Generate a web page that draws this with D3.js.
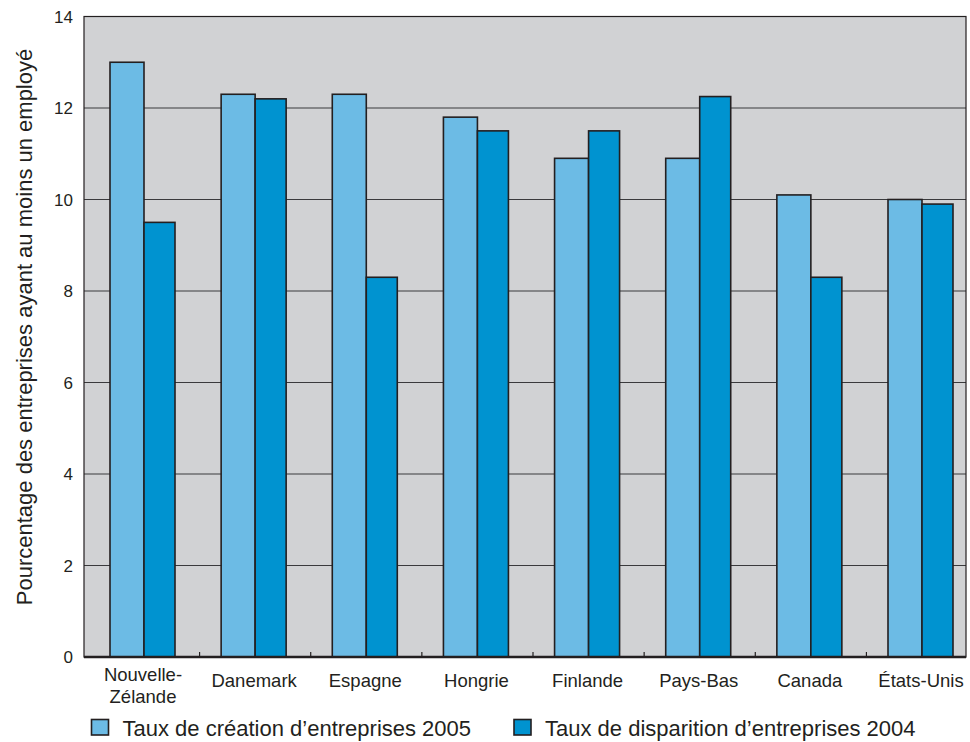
<!DOCTYPE html>
<html>
<head>
<meta charset="utf-8">
<script src="https://cdn.jsdelivr.net/npm/d3@7"></script>
<style>
  body { margin: 0; background: #fff; }
  text { font-family: "Liberation Sans", Arial, sans-serif; fill: #231f20; }
</style>
</head>
<body>
<svg id="chart" width="970" height="742"></svg>
<script>
const countries = ["Nouvelle-\nZélande", "Danemark", "Espagne", "Hongrie", "Finlande", "Pays-Bas", "Canada", "États-Unis"];
const creation2005 = [13.0, 12.3, 12.3, 11.8, 10.9, 10.9, 10.1, 10.0];
const disparition2004 = [9.5, 12.2, 8.3, 11.5, 11.5, 12.25, 8.3, 9.9];
const yTicks = [0, 2, 4, 6, 8, 10, 12, 14];
const seriesNames = ["Taux de création d’entreprises 2005", "Taux de disparition d’entreprises 2004"];
const colors = ["#6cbbe5", "#0093d0"];

const margin = { left: 84, top: 16.5, right: 4, bottom: 85 };
const width = 970 - margin.left - margin.right;
const height = 657 - margin.top;

const svg = d3.select("#chart");
const g = svg.append("g").attr("transform", "translate(" + margin.left + "," + margin.top + ")");

// group centres (boundary between the two bars)
const x = d3.scalePoint().domain(countries).range([60, 838]);
const step = x.step();
const y = d3.scaleLinear().domain([0, 14]).range([height, 0]);

// background
g.append("rect").attr("width", width).attr("height", height).attr("fill", "#d1d2d4");

// gridlines
g.selectAll(".grid").data(yTicks.slice(1, -1)).enter().append("line")
  .attr("x1", 0).attr("x2", width)
  .attr("y1", d => y(d)).attr("y2", d => y(d))
  .attr("stroke", "#3a3a3c").attr("stroke-width", 1.2);

// bars
const barX = [-34, 0];
const barWs = [34, 31];
const data = countries.map((c, i) => ({ c: c, v: [creation2005[i], disparition2004[i]] }));
const groups = g.selectAll(".grp").data(data).enter().append("g")
  .attr("transform", d => "translate(" + x(d.c) + ",0)");
groups.selectAll("rect").data(d => d.v).enter().append("rect")
  .attr("x", (d, i) => barX[i])
  .attr("y", d => y(d))
  .attr("width", (d, i) => barWs[i])
  .attr("height", d => y(0) - y(d))
  .attr("fill", (d, i) => colors[i])
  .attr("stroke", "#231f20").attr("stroke-width", 1.6);

// small tick marks between categories
g.selectAll(".sep").data(countries.slice(1)).enter().append("line")
  .attr("x1", d => x(d) - step / 2).attr("x2", d => x(d) - step / 2)
  .attr("y1", height).attr("y2", height - 5)
  .attr("stroke", "#231f20").attr("stroke-width", 1.2);

// frame
g.append("rect").attr("width", width).attr("height", height)
  .attr("fill", "none").attr("stroke", "#231f20").attr("stroke-width", 1.2);
g.append("line").attr("x1", 0).attr("x2", width).attr("y1", height).attr("y2", height)
  .attr("stroke", "#231f20").attr("stroke-width", 2.5);

// y axis labels
g.append("g").selectAll("text").data(yTicks).enter().append("text")
  .attr("x", -11).attr("y", d => y(d)).attr("dy", "0.36em")
  .attr("text-anchor", "end").attr("font-size", 17)
  .text(d => d);

// y title
svg.append("text")
  .attr("transform", "translate(32,327) rotate(-90)")
  .attr("text-anchor", "middle").attr("font-size", 22)
  .text("Pourcentage des entreprises ayant au moins un employé");

// x labels
const xl = g.append("g").selectAll("text").data(countries).enter().append("text")
  .attr("x", d => x(d) - 1)
  .attr("y", d => d.includes("\n") ? 680.5 - margin.top : 687 - margin.top)
  .attr("text-anchor", "middle").attr("font-size", 18.5);
xl.each(function(d) {
  const lines = d.split("\n");
  d3.select(this).selectAll("tspan").data(lines).enter().append("tspan")
    .attr("x", x(d) - 1)
    .attr("dy", (l, i) => i === 0 ? 0 : 22)
    .text(l => l);
});

// legend
const legX = [91.5, 514];
const leg = svg.append("g").selectAll("g").data(seriesNames).enter().append("g")
  .attr("transform", (d, i) => "translate(" + legX[i] + ",719.5)");
leg.append("rect").attr("width", 17).attr("height", 15.5)
  .attr("fill", (d, i) => colors[i]).attr("stroke", "#231f20").attr("stroke-width", 1.6);
leg.append("text").attr("x", 31).attr("y", 16)
  .attr("font-size", 22).text(d => d);
</script>
</body>
</html>
